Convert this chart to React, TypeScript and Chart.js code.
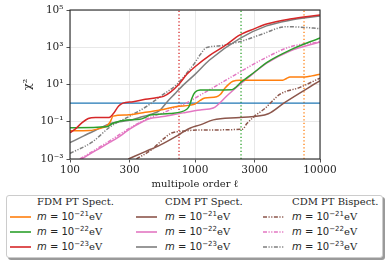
import React, { useEffect, useRef } from "react";
import { Chart, registerables } from "chart.js";
Chart.register(...registerables);

// ---- axes ----
const ellTicks = [100, 300, 1000, 3000, 10000];
const chiTicks = [1e-3, 1e-1, 1e1, 1e3, 1e5];
const chiTickLabels = ["10⁻³", "10⁻¹", "10¹", "10³", "10⁵"];
const xTitle = "multipole order ℓ";
const yTitle = "χ²";

// ---- FDM PT Spect. ----
const fdm21Ell = [100, 145, 175, 197, 210, 221, 284, 400, 525, 715, 910, 1000, 1100, 1200, 1490, 1600, 1740, 2010, 2290, 5040, 5400, 5750, 7590, 8600, 10000];
const fdm21Chi = [0.033, 0.034, 0.045, 0.06, 0.1, 0.2, 0.23, 0.32, 0.43, 0.65, 0.78, 0.9, 1.4, 1.9, 2.2, 3, 6.5, 15, 17, 17, 21, 25, 25, 29, 36];
const fdm22Ell = [100, 197, 221, 284, 363, 400, 437, 631, 860, 900, 950, 1000, 1100, 1960, 2360, 3030, 3740, 5750, 10000];
const fdm22Chi = [0.048, 0.054, 0.083, 0.126, 0.135, 0.17, 0.23, 0.28, 0.47, 0.7, 2.0, 3.8, 5, 5.2, 14, 50, 150, 700, 3200];
const fdm23Ell = [100, 110, 125, 140, 160, 205, 220, 245, 265, 320, 400, 500, 560, 640, 740, 860, 1000, 1320, 1700, 2290, 3000, 3740, 5750, 10000];
const fdm23Chi = [0.026, 0.04, 0.09, 0.15, 0.17, 0.17, 0.25, 0.7, 1.0, 1.2, 1.6, 2.0, 2.3, 4, 10, 35, 90, 380, 1100, 4600, 10000, 17800, 33000, 54000];

// ---- CDM PT Spect. ----
const cdm21Ell = [293, 400, 525, 760, 910, 1100, 1400, 2290, 3860, 5130, 10000];
const cdm21Chi = [0.001, 0.0025, 0.0056, 0.022, 0.045, 0.068, 0.126, 0.17, 0.27, 1.0, 16];
const cdm22Ell = [124, 160, 209, 260, 302, 380, 437, 555, 800, 1100, 1400, 1830, 2360, 3000, 3740, 5750, 10000];
const cdm22Chi = [0.001, 0.0028, 0.008, 0.02, 0.042, 0.1, 0.15, 0.19, 0.3, 0.43, 0.55, 2.75, 12, 45, 140, 630, 1900];
const cdm23Ell = [100, 130, 160, 215, 300, 360, 440, 520, 600, 700, 800, 1000, 1300, 2290, 3740, 5750, 10000];
const cdm23Chi = [0.0075, 0.018, 0.035, 0.083, 0.12, 0.17, 0.25, 0.4, 1.2, 3.5, 9, 35, 200, 3000, 14000, 28000, 48000];

// ---- CDM PT Bispect. ----
const bis21Ell = [340, 450, 560, 650, 760, 1100, 2400, 2600, 3000, 3600, 4790, 6900, 10000];
const bis21Chi = [0.001, 0.0032, 0.012, 0.025, 0.03, 0.036, 0.04, 0.08, 0.2, 0.5, 3.0, 7, 22];
const bis22Ell = [120, 200, 300, 437, 555, 700, 850, 1100, 1500, 2300, 3700, 5750, 10000];
const bis22Chi = [0.001, 0.008, 0.045, 0.17, 0.3, 0.6, 1.0, 2.7, 9, 48, 280, 1050, 1950];
const bis23Ell = [100, 150, 210, 300, 400, 525, 725, 900, 1000, 1100, 1230, 1500, 1800, 2290, 3310, 5370, 7000, 10000];
const bis23Chi = [0.002, 0.008, 0.054, 0.2, 0.6, 2.2, 11, 60, 150, 400, 950, 1150, 1400, 2000, 4600, 12600, 12000, 10000];

// ---- reference lines ----
const threshold = 1;
const cutoffEll = [745, 2335, 7450]; // m = 1e-23, 1e-22, 1e-21

const groupTitles = ["FDM PT Spect.", "CDM PT Spect.", "CDM PT Bispect."];
const massExps = ["−21", "−22", "−23"];

const C = {
  orange: "#ff7f0e", green: "#2ca02c", red: "#d62728",
  brown: "#8c564b", pink: "#e377c2", gray: "#7f7f7f", blue: "#1f77b4",
};
const DASHDOT = [4, 1.5, 1.2, 1.5, 1.2, 1.5];

const series = [
  { g: 0, m: 0, ell: fdm21Ell, chi: fdm21Chi, color: C.orange, dash: [] as number[], order: 3 },
  { g: 0, m: 1, ell: fdm22Ell, chi: fdm22Chi, color: C.green, dash: [], order: 2 },
  { g: 0, m: 2, ell: fdm23Ell, chi: fdm23Chi, color: C.red, dash: [], order: 1 },
  { g: 1, m: 0, ell: cdm21Ell, chi: cdm21Chi, color: C.brown, dash: [], order: 6 },
  { g: 1, m: 1, ell: cdm22Ell, chi: cdm22Chi, color: C.pink, dash: [], order: 5 },
  { g: 1, m: 2, ell: cdm23Ell, chi: cdm23Chi, color: C.gray, dash: [], order: 4 },
  { g: 2, m: 0, ell: bis21Ell, chi: bis21Chi, color: C.brown, dash: DASHDOT, order: 9 },
  { g: 2, m: 1, ell: bis22Ell, chi: bis22Chi, color: C.pink, dash: DASHDOT, order: 8 },
  { g: 2, m: 2, ell: bis23Ell, chi: bis23Chi, color: C.gray, dash: DASHDOT, order: 7 },
];
const cutoffColors = [C.red, C.green, C.orange];

const TXT = "#262626";
const SERIF = "'DejaVu Serif', serif";
const SANS = "'DejaVu Sans', sans-serif";

const framePlugin = {
  id: "frame",
  afterDatasetsDraw(chart: any) {
    const { ctx, chartArea } = chart;
    const { left, top, right, bottom } = chartArea;
    ctx.save();
    ctx.strokeStyle = TXT;
    ctx.lineWidth = 1.1;
    ctx.strokeRect(left, top, right - left, bottom - top);
    ctx.restore();
  },
};

function LineSample({ color, dash }: { color: string; dash: number[] }) {
  return (
    <svg width={21} height={6} style={{ display: "block" }}>
      <line x1={0} y1={3} x2={21} y2={3} stroke={color} strokeWidth={1.6}
        strokeDasharray={dash.length ? dash.join(" ") : undefined} />
    </svg>
  );
}

export default function App() {
  const ref = useRef<HTMLCanvasElement | null>(null);

  useEffect(() => {
    if (!ref.current) return;
    const datasets: any[] = series.map((s) => ({
      data: s.ell.map((x, i) => ({ x, y: s.chi[i] })),
      borderColor: s.color,
      borderDash: s.dash,
      borderWidth: 1.5,
      pointRadius: 0,
      cubicInterpolationMode: "monotone",
      fill: false,
      order: s.order,
    }));
    datasets.push({
      data: [{ x: ellTicks[0], y: threshold }, { x: ellTicks[ellTicks.length - 1], y: threshold }],
      borderColor: C.blue, borderWidth: 1.3, pointRadius: 0, order: 10,
    });
    cutoffEll.forEach((c, i) => {
      datasets.push({
        data: [{ x: c, y: chiTicks[0] }, { x: c, y: chiTicks[chiTicks.length - 1] }],
        borderColor: cutoffColors[i], borderWidth: 1.3, borderDash: [1.3, 2.2], pointRadius: 0, order: 11,
      });
    });

    const tickFont = { family: SERIF, size: 10.5 };
    const chart = new Chart(ref.current, {
      type: "line",
      data: { datasets },
      plugins: [framePlugin],
      options: {
        animation: false,
        responsive: false,
        events: [],
        layout: { padding: { left: 22, right: 70, top: 10, bottom: 0 } },
        plugins: { legend: { display: false }, tooltip: { enabled: false } },
        scales: {
          x: {
            type: "logarithmic",
            min: ellTicks[0],
            max: ellTicks[ellTicks.length - 1],
            afterBuildTicks: (s: any) => { s.ticks = ellTicks.map((v) => ({ value: v })); },
            afterFit: (s: any) => { s.height = 31; },
            ticks: { callback: (v: any) => String(v), font: tickFont, color: TXT, padding: 1, maxRotation: 0, autoSkip: false },
            grid: { color: "#e2e2e2", lineWidth: 0.8, tickLength: 3.5, tickColor: TXT, tickWidth: 0.8 },
            border: { display: false },
            title: { display: true, text: xTitle, font: { family: SERIF, size: 10 }, color: TXT, padding: 0 },
          },
          y: {
            type: "logarithmic",
            min: chiTicks[0],
            max: chiTicks[chiTicks.length - 1],
            afterBuildTicks: (s: any) => { s.ticks = chiTicks.map((v) => ({ value: v })); },
            afterFit: (s: any) => { s.width = 48; },
            ticks: {
              callback: (v: any) => chiTickLabels[chiTicks.indexOf(v)],
              font: tickFont, color: TXT, padding: 3, autoSkip: false,
            },
            grid: { color: "#e2e2e2", lineWidth: 0.8, tickLength: 3.5, tickColor: TXT, tickWidth: 0.8 },
            border: { display: false },
            title: { display: true, text: yTitle, font: { family: SERIF, size: 11 }, color: TXT, padding: 0 },
          },
        },
      } as any,
    });
    return () => chart.destroy();
  }, []);

  const colText = [37, 165, 292];
  const colLine = [10, 136, 263];
  const rowY = [217, 232, 247];

  return (
    <div style={{ position: "absolute", left: 0, top: 0, width: 390, height: 264, background: "#fff", overflow: "hidden" }}>
      <canvas ref={ref} width={390} height={190} style={{ position: "absolute", left: 0, top: 0, width: 390, height: 190 }} />
      <div style={{
        position: "absolute", left: 6, top: 195, width: 377, height: 63,
        border: "1px solid #cccccc", borderRadius: 3, background: "#fff",
        boxShadow: "2px 2px 0 #9a9a9a", boxSizing: "border-box",
      }} />
      {groupTitles.map((t, g) => (
        <div key={t} style={{
          position: "absolute", left: colText[g], top: 202 - 7, height: 14, lineHeight: "14px",
          fontFamily: SERIF, fontSize: 10, color: TXT, whiteSpace: "nowrap",
        }}>{t}</div>
      ))}
      {series.map((s, i) => (
        <React.Fragment key={i}>
          <div style={{ position: "absolute", left: colLine[s.g], top: rowY[s.m] - 3 }}>
            <LineSample color={s.color} dash={s.dash} />
          </div>
          <div style={{
            position: "absolute", left: colText[s.g], top: rowY[s.m] - 8, height: 16, lineHeight: "16px",
            fontSize: 10, color: TXT, whiteSpace: "nowrap",
          }}>
            <span style={{ fontFamily: SANS }}>
              <i>m</i> = 10<sup style={{ fontSize: 7, verticalAlign: 0, position: "relative", top: -4 }}>{massExps[s.m]}</sup>
            </span>
            <span style={{ fontFamily: SERIF }}>eV</span>
          </div>
        </React.Fragment>
      ))}
    </div>
  );
}
